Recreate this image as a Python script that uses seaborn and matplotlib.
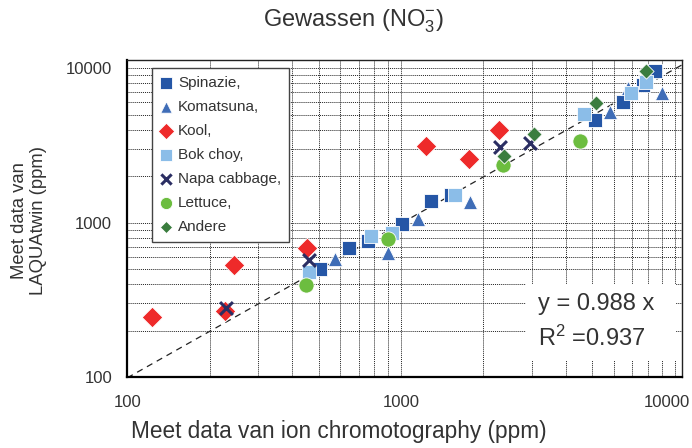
import numpy as np
import pandas as pd
import matplotlib
matplotlib.use("Agg")
import matplotlib.pyplot as plt
import matplotlib.transforms as mtransforms
from matplotlib.patches import Rectangle
import seaborn as sns
from matplotlib.ticker import FixedLocator, NullFormatter, FixedFormatter

# waarden (ion chromatografie vs LAQUAtwin, ppm)
spinazie_x = [505, 645, 760, 1010, 1290, 1520, 5100, 6470, 7650, 8450]
spinazie_y = [500, 680, 765, 980, 1370, 1500, 4620, 6080, 7800, 9600]
komatsuna_x = [575, 900, 1150, 1790, 5780, 6750, 9000]
komatsuna_y = [580, 635, 1055, 1355, 5190, 7400, 6950]
kool_x = [123, 228, 245, 455, 1235, 1770, 2290]
kool_y = [246, 269, 530, 680, 3150, 2600, 3950]
bokchoy_x = [462, 780, 930, 1570, 4650, 6900, 7880]
bokchoy_y = [480, 820, 860, 1500, 5060, 6890, 8190]
napa_x = [230, 460, 2300, 2950]
napa_y = [280, 570, 3080, 3270]
lettuce_x = [450, 900, 2350, 4520]
lettuce_y = [395, 785, 2360, 3400]
andere_x = [2370, 3050, 5140, 7880]
andere_y = [2700, 3740, 5930, 9600]

slope = 0.988
r2 = 0.937

series = [
    ("Spinazie,", spinazie_x, spinazie_y, "s", "#2556a6", 105),
    ("Komatsuna,", komatsuna_x, komatsuna_y, "^", "#3f6db7", 105),
    ("Kool,", kool_x, kool_y, "D", "#ee2a2a", 110),
    ("Bok choy,", bokchoy_x, bokchoy_y, "s", "#8bbde8", 105),
    ("Napa cabbage,", napa_x, napa_y, "x", "#2b2e63", 85),
    ("Lettuce,", lettuce_x, lettuce_y, "o", "#6cbd3f", 120),
    ("Andere", andere_x, andere_y, "D", "#3a7d3e", 60),
]

sns.set_style("white")
plt.rcParams["font.family"] = ["Liberation Sans", "DejaVu Sans"]
plt.rcParams["mathtext.fontset"] = "custom"
plt.rcParams["mathtext.rm"] = "Liberation Sans"
plt.rcParams["mathtext.it"] = "Liberation Sans"
txt = "#333333"

fig = plt.figure(figsize=(6.92, 4.48), dpi=100)
ax = fig.add_axes([0.184, 0.1585, 0.801, 0.7076])
ax.set_xscale("log")
ax.set_yscale("log")
ax.set_xlim(100, 10600)
ax.set_ylim(100, 11300)

# y = 0.988 x lijn
lx = np.array([100, 10600])
ax.plot(lx, slope * lx, color="#222222", lw=0.9, ls=(0, (5, 4)), zorder=2)

for naam, xs, ys, mk, kl, s in series:
    df = pd.DataFrame({"x": xs, "y": ys})
    if mk == "x":
        sns.scatterplot(data=df, x="x", y="y", marker="x", color=kl, s=s,
                        linewidth=2.2, label=naam, ax=ax, zorder=3)
    else:
        sns.scatterplot(data=df, x="x", y="y", marker=mk, color=kl, s=s,
                        edgecolor="white", linewidth=0.6, label=naam, ax=ax, zorder=3)

# ticks en grid
maj = [100, 1000, 10000]
minx = [m * d for d in (100, 1000) for m in range(2, 10)]
for axis in (ax.xaxis, ax.yaxis):
    axis.set_major_locator(FixedLocator(maj))
    axis.set_major_formatter(FixedFormatter([str(v) for v in maj]))
    axis.set_minor_locator(FixedLocator(minx))
    axis.set_minor_formatter(NullFormatter())
ax.tick_params(which="both", direction="in", length=5, width=0.8, color="black")
ax.tick_params(axis="x", which="major", pad=13, labelsize=12, labelcolor=txt)
ax.tick_params(axis="y", which="major", pad=11, labelsize=12, labelcolor=txt)
ax.grid(True, which="both", color="#222222", ls=(0, (1, 1)), lw=0.7)
ax.set_axisbelow(True)
for sp in ("left", "bottom"):
    ax.spines[sp].set_linewidth(1.6)
    ax.spines[sp].set_color("black")
for sp in ("top", "right"):
    ax.spines[sp].set_linewidth(1.0)
    ax.spines[sp].set_color("#222222")
ax.set_xlabel("")
ax.set_ylabel("")

# laatste x-label iets naar links zoals in het origineel
fig.canvas.draw()
lastlab = ax.xaxis.get_major_ticks()[-1].label1
lastlab.set_transform(lastlab.get_transform() +
                      mtransforms.ScaledTranslation(-8 / 100, 0, fig.dpi_scale_trans))

leg = ax.legend(loc="upper left", bbox_to_anchor=(0.0446, 0.975), borderaxespad=0,
                fontsize=11, frameon=True, fancybox=False, edgecolor="#444444",
                framealpha=1, handlelength=0.8, handletextpad=0.4, labelspacing=0.66,
                borderpad=0.5, markerscale=0.8)
leg.get_frame().set_linewidth(1.0)
for t in leg.get_texts():
    t.set_color(txt)

# witte achtergrond achter de vergelijking
ax.add_patch(Rectangle((0.719, 0.0505), 0.271, 0.2425, transform=ax.transAxes,
                       facecolor="white", edgecolor="none", zorder=2.5))
ax.text(0.741, 0.1735, "y = %.3f x\nR$^2$ =%.3f" % (slope, r2), transform=ax.transAxes,
        ha="left", va="center", fontsize=17, color=txt, linespacing=1.5, zorder=4)

fig.text(0.51, 0.953, "Gewassen (NO$_3^{\\mathdefault{-}}$)", ha="center", va="center",
         fontsize=17, color=txt)
fig.text(0.489, 0.036, "Meet data van ion chromotography (ppm)", ha="center", va="center",
         fontsize=16.3, color=txt)
fig.text(0.042, 0.507, "Meet data van\nLAQUAtwin (ppm)", ha="center", va="center",
         rotation=90, fontsize=13.3, color=txt, multialignment="center")

fig.savefig("out.png", dpi=100)
